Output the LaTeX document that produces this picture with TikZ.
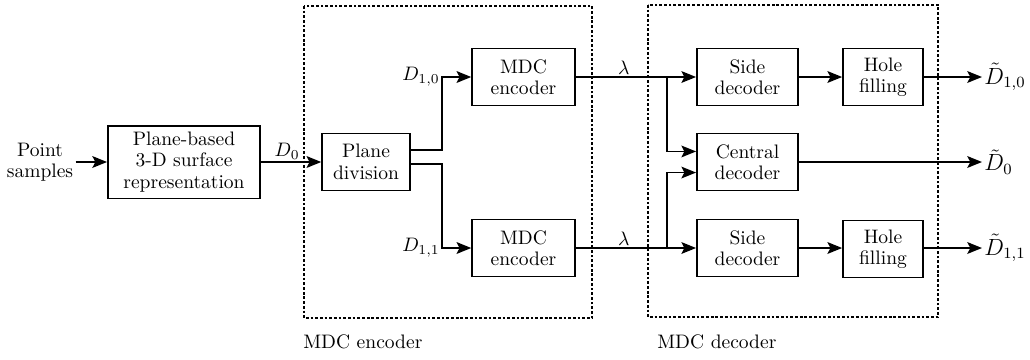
\documentclass[tikz,border=0pt]{standalone}
\usepackage{amssymb, amsmath}
\usepackage{tikz}
\usetikzlibrary{arrows.meta, positioning}

\tikzset{
  blk/.style={draw, line width=0.9pt, align=center, inner sep=1pt,
    font=\fontsize{10}{11}\selectfont},
  lbl/.style={inner sep=1pt, font=\fontsize{10}{11}\selectfont},
  outlbl/.style={inner sep=1pt, font=\fontsize{12}{12}\selectfont},
  group/.style={densely dotted, line width=1.4pt},
  flow/.style={->, line width=0.9pt}
}

\begin{document}
\begin{tikzpicture}[x=0.018cm, y=-0.018cm, >={Stealth[length=7.5pt, width=6pt, inset=1.5pt]}]

\useasboundingbox (0, 0) rectangle (1030, 359);

% dotted groups
\draw[group] (304, 6) rectangle (592, 318);
\draw[group] (648, 5) rectangle (938, 317);
\node[lbl, anchor=west] (encname) at (301, 342) {MDC encoder};
\node[lbl, anchor=west] (decname) at (655, 342) {MDC decoder};

% blocks
\node[lbl, align=center] (pts) at (40, 162) {Point\\samples};
\node[blk, minimum width=2.74cm, minimum height=1.31cm] (rep) at (184, 162)
  {Plane-based\\3-D surface\\representation};
\node[blk, minimum width=1.58cm, minimum height=1.03cm] (div) at (366, 162)
  {Plane\\division};
\node[blk, minimum width=1.85cm, minimum height=1.03cm] (encA) at (523.5, 77) {MDC\\encoder};
\node[blk, minimum width=1.85cm, minimum height=1.03cm] (encB) at (523.5, 248) {MDC\\encoder};
\node[blk, minimum width=1.82cm, minimum height=1.03cm] (sideA) at (747.5, 77) {Side\\decoder};
\node[blk, minimum width=1.82cm, minimum height=1.03cm] (cen) at (747.5, 162) {Central\\decoder};
\node[blk, minimum width=1.82cm, minimum height=1.03cm] (sideB) at (747.5, 248) {Side\\decoder};
\node[blk, minimum width=1.44cm, minimum height=1.03cm] (holeA) at (883, 77) {Hole\\filling};
\node[blk, minimum width=1.44cm, minimum height=1.03cm] (holeB) at (883, 249) {Hole\\filling};

% outputs
\node[outlbl, anchor=west] (outA) at (982, 77) {$\tilde{D}_{1,0}$};
\node[outlbl, anchor=west] (outC) at (982, 162) {$\tilde{D}_{0}$};
\node[outlbl, anchor=west] (outB) at (982, 248) {$\tilde{D}_{1,1}$};

\coordinate (forkE) at (442, 162);
\coordinate (forkD) at (667, 162);

% connectors
\draw[flow] (pts.east |- rep.west) -- (rep.west);
\draw[flow] (rep.east) -- node[lbl, above, xshift=-2pt] (d0) {$D_{0}$} (div.west);
\draw[flow] ([yshift=6pt]div.east) -| (encA.west -| forkE) -- (encA.west);
\draw[flow] ([yshift=-1pt]div.east) -| (encB.west -| forkE) -- (encB.west);
\node[lbl, left] (d10) at (encA.west -| forkE) {$D_{1,0}$};
\node[lbl, left] (d11) at (encB.west -| forkE) {$D_{1,1}$};

\draw[flow] (encA.east) -- node[lbl, above, pos=0.4] (lamA) {$\lambda$} (sideA.west);
\draw[flow] (encB.east) -- node[lbl, above, pos=0.4] (lamB) {$\lambda$} (sideB.west);
\draw[flow] (encA.east -| forkD) |- ([yshift=5.4pt]cen.west);
\draw[flow] (encB.east -| forkD) |- ([yshift=-5.4pt]cen.west);

\draw[flow] (sideA) -- (holeA);
\draw[flow] (sideB.east) -- (holeB.west |- sideB.east);
\draw[flow] (holeA.east |- outA.west) -- (outA);
\draw[flow] (cen) -- (outC);
\draw[flow] (holeB.east |- outB.west) -- (outB);

\end{tikzpicture}
\end{document}
